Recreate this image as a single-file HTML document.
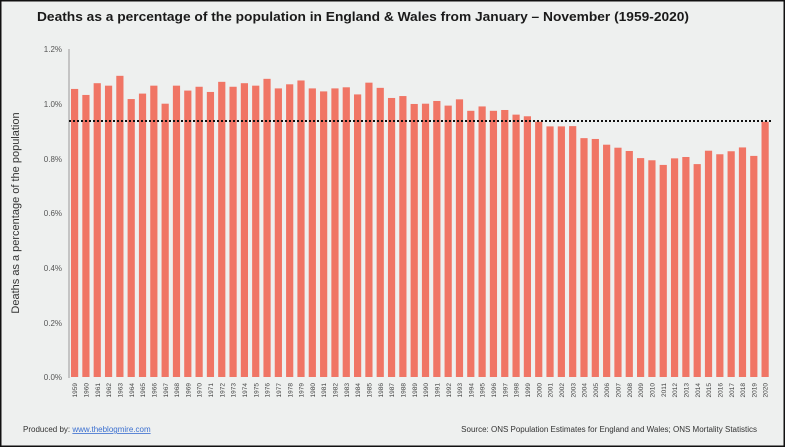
<!DOCTYPE html>
<html><head><meta charset="utf-8"><style>
html,body{margin:0;padding:0;background:#eef0ef;}
svg{display:block;}
</style></head><body>
<svg width="785" height="447" viewBox="0 0 785 447" xmlns="http://www.w3.org/2000/svg" font-family="Liberation Sans, sans-serif">
<rect x="0.75" y="0.75" width="783.5" height="445.5" fill="#eef0ef" stroke="#111" stroke-width="1.5"/>
<text x="37" y="21" font-size="12.5" font-weight="bold" fill="#1a1a1a" textLength="652" lengthAdjust="spacingAndGlyphs">Deaths as a percentage of the population in England &amp; Wales from January – November (1959-2020)</text>
<g font-size="8" fill="#555" text-anchor="end">
<text x="62" y="52">1.2%</text>
<text x="62" y="107">1.0%</text>
<text x="62" y="162">0.8%</text>
<text x="62" y="216">0.6%</text>
<text x="62" y="271">0.4%</text>
<text x="62" y="326">0.2%</text>
<text x="62" y="380">0.0%</text>
</g>
<text transform="translate(19,213) rotate(-90)" font-size="11" fill="#333" text-anchor="middle">Deaths as a percentage of the population</text>
<line x1="69" y1="49" x2="69" y2="378" stroke="#999" stroke-width="1"/>
<g id="bars" fill="#f07565"></g>
<line x1="69" y1="121" x2="772" y2="121" stroke="#111" stroke-width="2" stroke-dasharray="2,2"/>
<g id="labels" font-size="6.5" fill="#444"></g>
<text x="23" y="432" font-size="8" fill="#333">Produced by: <tspan fill="#3a6fd0" text-decoration="underline">www.theblogmire.com</tspan></text>
<text x="757" y="432" font-size="8" fill="#333" text-anchor="end">Source: ONS Population Estimates for England and Wales; ONS Mortality Statistics</text>
</svg>
<script>
var v=[1.054,1.032,1.075,1.066,1.102,1.017,1.037,1.066,1.0,1.066,1.048,1.062,1.043,1.08,1.062,1.075,1.066,1.091,1.056,1.071,1.085,1.056,1.045,1.056,1.06,1.034,1.077,1.058,1.021,1.028,0.999,1.0,1.01,0.993,1.016,0.974,0.99,0.974,0.977,0.96,0.954,0.934,0.917,0.917,0.918,0.874,0.871,0.85,0.839,0.827,0.801,0.793,0.776,0.8,0.805,0.779,0.828,0.815,0.826,0.84,0.809,0.934];
var ns="http://www.w3.org/2000/svg",b=document.getElementById('bars'),l=document.getElementById('labels');
for(var i=0;i<v.length;i++){var x=71+i*11.32,h=v[i]*273.3;
var r=document.createElementNS(ns,'rect');r.setAttribute('x',x.toFixed(2));r.setAttribute('y',(377-h).toFixed(2));r.setAttribute('width','7.2');r.setAttribute('height',h.toFixed(2));b.appendChild(r);
var t=document.createElementNS(ns,'text');t.setAttribute('transform','translate('+(x+6.2).toFixed(2)+',383) rotate(-90)');t.setAttribute('text-anchor','end');t.textContent=1959+i;l.appendChild(t);}
</script>
</body></html>
